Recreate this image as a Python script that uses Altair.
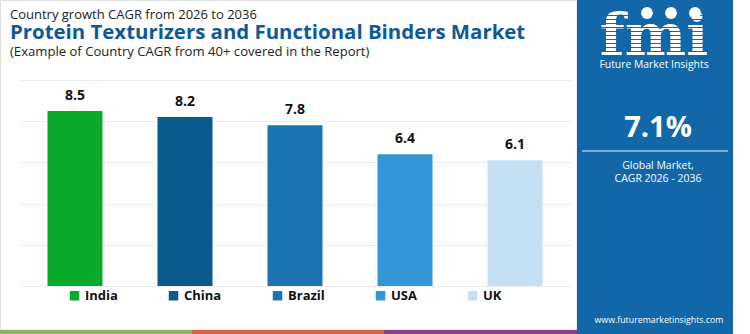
import altair as alt
import pandas as pd

countries = ["India", "China", "Brazil", "USA", "UK"]
cagr = [8.5, 8.2, 7.8, 6.4, 6.1]
colors = ["#0aaa2c", "#0b5a8e", "#1b74b0", "#3396d6", "#c4e1f3"]
grid_values = [0, 2, 4, 6, 8, 10]

title_top = "Country growth CAGR from 2026 to 2036"
title_main = "Protein Texturizers and Functional Binders Market"
title_sub = "(Example of Country CAGR from 40+ covered in the Report)"
global_cagr = "7.1%"
global_lines = ["Global Market,", "CAGR 2026 - 2036"]
brand = "Future Market Insights"
url = "www.futuremarketinsights.com"

df = pd.DataFrame({"country": countries, "cagr": cagr,
                   "label": [f"{v:.1f}" for v in cagr]})
one = pd.DataFrame({"a": [0]})

FONT = "Open Sans"
PANEL = "#1167a8"
OX, OY = 20, 80  # plot origin on the page


def px(v):
    return alt.value(v - OX)


def py(v):
    return alt.value(v - OY)


x = alt.X("country:N", sort=countries,
          scale=alt.Scale(paddingInner=0.5, paddingOuter=0.25), axis=None)
y = alt.Y("cagr:Q", scale=alt.Scale(domain=[0, 10]),
          axis=alt.Axis(values=grid_values, grid=True, gridColor="#ececec",
                        gridWidth=1, labels=False, ticks=False, domain=False,
                        title=None))

bars = alt.Chart(df).mark_bar().encode(
    x=x, y=y,
    color=alt.Color("country:N", sort=countries,
                    scale=alt.Scale(domain=countries, range=colors),
                    legend=alt.Legend(orient="none", legendX=48, legendY=209,
                                      direction="horizontal", columns=5,
                                      title=None, symbolType="square",
                                      symbolSize=90, symbolStrokeWidth=0,
                                      labelFont=FONT, labelFontSize=13,
                                      labelFontWeight="bold",
                                      labelColor="#111111", labelOffset=4,
                                      columnPadding=49)),
)

labels = alt.Chart(df).mark_text(dy=-8, baseline="bottom", fontWeight="bold",
                                 fontSize=14, font=FONT, color="#111111").encode(
    x=x, y=y, text="label:N")

layers = [bars, labels]

# outer frame of left area
layers.append(alt.Chart(one).mark_rect(fill=None, stroke="#dedede", strokeWidth=1).encode(
    x=px(0.5), x2=px(577), y=py(0.5), y2=py(330)))

# bottom stripes
for x0, x1, c in [(0, 192, "#86b85a"), (192, 384, "#d5653c"), (384, 577, "#8d3b8f")]:
    layers.append(alt.Chart(one).mark_rect(fill=c).encode(
        x=px(x0), x2=px(x1), y=py(330), y2=py(334)))

# titles
layers.append(alt.Chart(one).mark_text(text=title_top, align="left", baseline="alphabetic",
                                       font=FONT, fontSize=13, color="#222222").encode(
    x=px(10), y=py(19)))
layers.append(alt.Chart(one).mark_text(text=title_main, align="left", baseline="alphabetic",
                                       font=FONT, fontSize=20.4, fontWeight="bold",
                                       color="#0d5a96").encode(
    x=px(10), y=py(39)))
layers.append(alt.Chart(one).mark_text(text=title_sub, align="left", baseline="alphabetic",
                                       font=FONT, fontSize=13.1, color="#222222").encode(
    x=px(10), y=py(56)))

# right panel
layers.append(alt.Chart(one).mark_rect(fill=PANEL).encode(
    x=px(577), x2=px(733), y=py(0), y2=py(334)))
layers.append(alt.Chart(one).mark_text(text="fmi", align="center", baseline="alphabetic",
                                       font="DejaVu Serif", fontSize=58, fontWeight="bold",
                                       color="white").encode(
    x=px(654), y=py(55)))
for yy in range(15, 56, 4):
    layers.append(alt.Chart(one).mark_rule(color=PANEL, strokeWidth=1.2).encode(
        x=px(598), x2=px(718), y=py(yy + 0.5)))
for cx in [647, 671, 695]:
    layers.append(alt.Chart(one).mark_point(filled=True, shape="circle", size=140,
                                            color="white", opacity=1).encode(
        x=px(cx), y=py(13)))
layers.append(alt.Chart(one).mark_text(text=brand, align="center", baseline="middle",
                                       font=FONT, fontSize=10.4, color="white").encode(
    x=px(654), y=py(65)))
layers.append(alt.Chart(one).mark_text(text=global_cagr, align="center", baseline="alphabetic",
                                       font=FONT, fontSize=29, fontWeight="bold",
                                       color="white").encode(
    x=px(658), y=py(137)))
layers.append(alt.Chart(one).mark_rule(color="#9fc4e2", strokeWidth=1.5).encode(
    x=px(582), x2=px(728), y=py(151)))
for i, t in enumerate(global_lines):
    layers.append(alt.Chart(one).mark_text(text=t, align="center", baseline="middle",
                                           font=FONT, fontSize=10.5, color="white").encode(
        x=px(658), y=py(166 + 13 * i)))
layers.append(alt.Chart(one).mark_text(text=url, align="center", baseline="middle",
                                       font=FONT, fontSize=8.8, color="white").encode(
    x=px(659), y=py(320)))

chart = alt.layer(*layers).properties(
    width=550, height=206,
    autosize=alt.AutoSizeParams(type="none"),
    padding={"left": OX, "top": OY, "right": 180, "bottom": 48},
    background="white",
).configure_view(strokeWidth=0)

chart.save("out.html", embed_options={"renderer": "svg", "actions": False})
